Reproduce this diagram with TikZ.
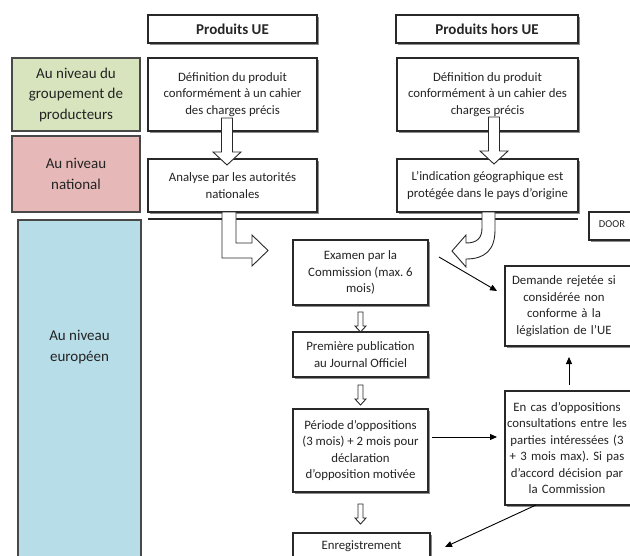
\documentclass[tikz,border=0pt]{standalone}
\usepackage{fontspec}
\setmainfont{Carlito}
\usetikzlibrary{arrows.meta,shadows}

\definecolor{lvlgreen}{RGB}{215,228,189}
\definecolor{lvlpink}{RGB}{230,185,184}
\definecolor{lvlblue}{RGB}{183,221,232}
\definecolor{ink}{RGB}{35,35,35}
\definecolor{edge}{RGB}{40,40,40}

\newcommand\stagefont{\fontsize{12.8}{16.5}\selectfont}
\newcommand\levelfont{\fontsize{15}{20.5}\selectfont}
\frenchspacing

\begin{document}
\begin{tikzpicture}[x=1pt,y=-1pt,
  every node/.style={inner sep=0pt, outer sep=0pt},
  shade box/.style={drop shadow={shadow xshift=1.8pt, shadow yshift=-1.8pt, fill=black, opacity=0.45}},
  frame/.style={draw=edge, line width=1.1pt, fill=white, shade box},
  stage/.style={frame, align=center, text=ink, font=\stagefont},
  txt/.style={align=center, text=ink, font=\stagefont},
  head/.style={frame, align=center, text=black!85, font=\fontsize{15}{18}\selectfont\bfseries},
  level/.style={draw=edge!85, line width=1.1pt, align=center, text=ink, font=\levelfont},
  link/.style={draw=black, line width=0.9pt, -{Triangle[length=7pt,width=6pt]}},
  hollow/.style={draw=edge, line width=0.9pt, fill=white, line join=miter},
  divider/.style={draw=edge, line width=1.1pt},
  bigdown/.pic={\path[hollow] (-5.5,0) -- (-5.5,34) -- (-14,34) -- (0,47) -- (14,34) -- (5.5,34) -- (5.5,0) -- cycle;},
  smalldown/.pic={\path[hollow] (-2.5,0) -- (-2.5,14) -- (-5.5,14) -- (0,20) -- (5.5,14) -- (2.5,14) -- (2.5,0) -- cycle;}
]
\useasboundingbox (0,0) rectangle (630,555);
\clip (0,0) rectangle (630,555);
\fill[white] (0,0) rectangle (630,555);

% column headings
\node[head, minimum width=169pt, minimum height=28pt] (hUE) at (232.5,29) {Produits UE};
\node[head, minimum width=182pt, minimum height=28pt] (hHors) at (487,29) {Produits hors UE};

% levels on the left
\node[level, fill=lvlgreen, minimum width=128pt, minimum height=73pt] (lvlG) at (76,94.5) {Au niveau du\\groupement de\\producteurs};
\node[level, fill=lvlpink, minimum width=128pt, minimum height=76pt] (lvlN) at (76,174) {Au niveau\\national};
\node[level, fill=lvlblue, minimum width=123pt, minimum height=345pt, anchor=north] (lvlE) at (79.5,220) {};
\node[align=center, text=ink, font=\levelfont] (lvlEtxt) at (79.5,347) {Au niveau\\européen};

% producer and national steps
\node[stage, minimum width=169pt, minimum height=73pt] (defUE) at (232.5,94.5) {Définition du produit\\conformément à un cahier\\des charges précis};
\node[stage, minimum width=181pt, minimum height=73pt] (defH) at (487.5,94.5) {Définition du produit\\conformément à un cahier des\\charges précis};
\node[stage, minimum width=169pt, minimum height=53pt] (ana) at (232.5,185.5) {Analyse par les autorités\\nationales};
\node[stage, minimum width=181pt, minimum height=53pt] (ind) at (487.5,185.5) {L’indication géographique est\\protégée dans le pays d’origine};

% european steps
\path[frame] (589,212) rectangle (650,240);
\node[text=ink, font=\fontsize{10.5}{12}\selectfont] (door) at (612,224) {DOOR};

\node[stage, minimum width=135pt, minimum height=65pt] (exam) at (360.5,272.5) {Examen par la\\Commission (max. 6\\mois)};
\node[stage, minimum width=135pt, minimum height=45pt] (pub) at (360.5,354.5) {Première publication\\au Journal Officiel};
\node[stage, minimum width=135pt, minimum height=83pt] (per) at (360.5,450.5) {Période d’oppositions\\(3 mois) + 2 mois pour\\déclaration\\d’opposition motivée};
\node[stage, minimum width=137pt, text height=16pt, text depth=31pt, anchor=north] (enr) at (361.5,533) {Enregistrement};

\path[frame] (505,266) rectangle (650,346);
\node[txt, text width=118pt, minimum height=80pt] (dem) at (564,306) {Demande rejetée si\\considérée non\\conforme à la\\législation de l’UE};
\path[frame] (505,391) rectangle (650,505);
\node[txt, text width=124pt, minimum height=114pt] (encas) at (567,448) {En cas d’oppositions\\consultations entre les\\parties intéressées (3\\+ 3 mois max). Si pas\\d’accord décision par\\la Commission};

% line closing the national level
\draw[divider] ([shift={(0,7)}]ana.south west) -- ([shift={(0,7)}]ind.south east);

% hollow block arrows
\pic at ([shift={(-5.5,-13)}]defUE.south) {bigdown};
\pic at ([shift={(6.5,-14)}]defH.south) {bigdown};
\pic at ([shift={(0,7)}]exam.south) {smalldown};
\pic at ([shift={(0,8)}]pub.south) {smalldown};
\pic at ([shift={(0,12)}]per.south) {smalldown};

\path[hollow] ([shift={(-10.5,0)}]ana.south) -- ++(0,46) -- ++(30,0) -- ++(0,8) -- ++(16,-15.5) -- ++(-16,-15.5) -- ++(0,8) -- ++(-16,0) -- ++(0,-31) -- cycle;

\begin{scope}[shift={(ind.south)}]
  \path[hollow] (-5.5,0) -- (7.5,0) -- (7.5,18) .. controls (7.5,38) and (-2.5,47) .. (-21.5,47)
    -- (-21.5,55) -- (-35.5,39) -- (-21.5,23) -- (-21.5,31)
    .. controls (-10.5,31) and (-5.5,26) .. (-5.5,16) -- cycle;
\end{scope}

% connectors
\draw[link] ([shift={(11,-15.5)}]exam.east) -- ([shift={(-8,-15)}]dem.west);
\draw[link] ([shift={(4,-13.5)}]per.east) -- ([shift={(-8,-11)}]encas.west);
\draw[link] ([shift={(64,-6)}]encas.north west) -- ([shift={(64,11)}]dem.south west);
\draw[link] ([shift={(31,0)}]encas.south west) -- ([shift={(15,14)}]enr.north east);
\end{tikzpicture}
\end{document}
